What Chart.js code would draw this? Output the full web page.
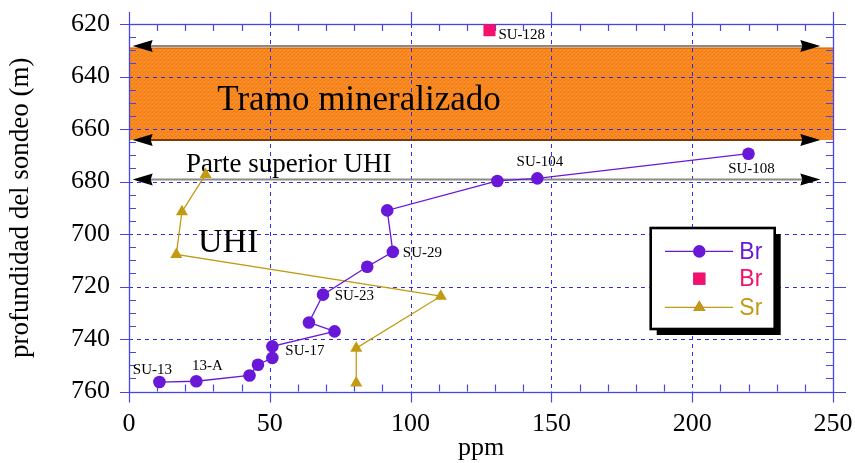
<!DOCTYPE html>
<html>
<head>
<meta charset="utf-8">
<script src="https://cdn.jsdelivr.net/npm/chart.js@4.4.1/dist/chart.umd.min.js"></script>
<style>
  html, body { margin: 0; padding: 0; background: #ffffff; }
  #wrap { width: 855px; height: 463px; position: relative; }
</style>
</head>
<body>
<div id="wrap"><canvas id="c" width="855" height="463"></canvas></div>
<script>
// Bromine profile (ppm vs depth in m), ordered by depth
const brPpm   = [220, 145, 130.8, 91.7, 93.7, 84.6, 68.9, 63.9, 73.0, 50.9, 50.9, 45.8, 42.8, 23.9, 10.8];
const brDepth = [669.4, 678.8, 679.8, 691.0, 706.8, 712.5, 723.1, 733.7, 737.1, 742.8, 747.2, 749.8, 753.9, 756.1, 756.4];
const brNames = ['SU-108', 'SU-104', '', '', 'SU-29', '', 'SU-23', '', '', 'SU-17', '', '', '', '13-A', 'SU-13'];

// Isolated bromine sample
const br2Ppm   = [128];
const br2Depth = [622.4];
const br2Names = ['SU-128'];

// Strontium profile
const srPpm   = [27.2, 18.8, 16.8, 110.7, 80.7, 80.7];
const srDepth = [677.3, 691.5, 707.8, 723.7, 743.5, 756.8];

// Axis ticks
const xTickValues = [0, 50, 100, 150, 200, 250];
const yTickValues = [620, 640, 660, 680, 700, 720, 740, 760];

// Depth intervals
const mineralTop = 629;
const mineralBottom = 664.2;
const markerDepths = [628.4, 664.2, 679.2];

const SERIF = "'Liberation Serif', 'Times New Roman', serif";
const SANS = "'Liberation Sans', Arial, sans-serif";
const GRID_BLUE = '#2e2ef0';
const FRAME_BLUE = '#4646e6';

const PURPLE = '#6a18d8';
const PINK = '#f5106c';
const GOLD = '#c29b12';

Chart.defaults.font.family = SERIF;

// Orange speckled fill for the mineralised interval
function makeBandPattern(ctx) {
  const p = document.createElement('canvas');
  p.width = 4; p.height = 4;
  const g = p.getContext('2d');
  g.fillStyle = '#f98a1f';
  g.fillRect(0, 0, 4, 4);
  g.fillStyle = '#ee781a';
  g.fillRect(0, 0, 1, 1);
  g.fillRect(2, 2, 1, 1);
  g.fillRect(3, 0, 1, 1);
  g.fillRect(1, 3, 1, 1);
  g.fillStyle = '#fc9634';
  g.fillRect(2, 0, 1, 1);
  g.fillRect(0, 2, 1, 1);
  return ctx.createPattern(p, 'repeat');
}

const bandPlugin = {
  id: 'band',
  beforeDraw(chart) {
    const {ctx, chartArea: a, scales: {y}} = chart;
    const t = y.getPixelForValue(mineralTop);
    const b = y.getPixelForValue(mineralBottom);
    ctx.save();
    ctx.fillStyle = makeBandPattern(ctx);
    ctx.fillRect(a.left, t, a.right - a.left, b - t);
    ctx.strokeStyle = '#d0650f';
    ctx.lineWidth = 1;
    ctx.beginPath();
    ctx.moveTo(a.left, t + 0.5);
    ctx.lineTo(a.right, t + 0.5);
    ctx.stroke();
    ctx.restore();
  }
};

function arrowHead(ctx, tipX, yy, dir) {
  const len = 20, half = 6;
  ctx.beginPath();
  ctx.moveTo(tipX, yy);
  ctx.lineTo(tipX + dir * len, yy - half);
  ctx.lineTo(tipX + dir * len * 0.9, yy);
  ctx.lineTo(tipX + dir * len, yy + half);
  ctx.closePath();
  ctx.fill();
}

const framePlugin = {
  id: 'frame',
  beforeDatasetsDraw(chart) {
    const {ctx, chartArea: a, scales: {x, y}} = chart;
    ctx.save();

    // dashed grid
    ctx.strokeStyle = GRID_BLUE;
    ctx.lineWidth = 1;
    ctx.setLineDash([4, 4]);
    xTickValues.forEach(v => {
      const px = Math.round(x.getPixelForValue(v)) + 0.5;
      ctx.beginPath(); ctx.moveTo(px, a.top); ctx.lineTo(px, a.bottom); ctx.stroke();
    });
    yTickValues.forEach(v => {
      const py = Math.round(y.getPixelForValue(v)) + 0.5;
      ctx.beginPath(); ctx.moveTo(a.left, py); ctx.lineTo(a.right, py); ctx.stroke();
    });
    ctx.setLineDash([]);

    // frame
    ctx.strokeStyle = FRAME_BLUE;
    ctx.lineWidth = 1.3;
    ctx.strokeRect(Math.round(a.left) + 0.5, Math.round(a.top) + 0.5,
                   Math.round(a.right) - Math.round(a.left), Math.round(a.bottom) - Math.round(a.top));

    // major ticks (outward) and minor ticks (inward)
    ctx.lineWidth = 1.2;
    ctx.beginPath();
    xTickValues.forEach(v => {
      const px = Math.round(x.getPixelForValue(v)) + 0.5;
      ctx.moveTo(px, a.top - 12); ctx.lineTo(px, a.top);
      ctx.moveTo(px, a.bottom); ctx.lineTo(px, a.bottom + 11);
    });
    yTickValues.forEach(v => {
      const py = Math.round(y.getPixelForValue(v)) + 0.5;
      ctx.moveTo(a.left - 9, py); ctx.lineTo(a.left, py);
      ctx.moveTo(a.right, py); ctx.lineTo(a.right + 13, py);
    });
    for (let v = x.min; v <= x.max; v += 10) {
      if (v % 50 === 0) continue;
      const px = Math.round(x.getPixelForValue(v)) + 0.5;
      ctx.moveTo(px, a.top); ctx.lineTo(px, a.top + 7);
      ctx.moveTo(px, a.bottom); ctx.lineTo(px, a.bottom - 7);
    }
    for (let v = y.min; v <= y.max; v += 5) {
      if (v % 20 === 0) continue;
      const py = Math.round(y.getPixelForValue(v)) + 0.5;
      ctx.moveTo(a.left, py); ctx.lineTo(a.left + 7, py);
      ctx.moveTo(a.right, py); ctx.lineTo(a.right - 7, py);
    }
    ctx.stroke();

    // double-headed interval markers
    const lineColors = ['#8a8a8a', '#7a3a08', '#8a8a8a'];
    const x0 = x.getPixelForValue(1.3);
    const x1 = x.getPixelForValue(245.5);
    markerDepths.forEach((d, i) => {
      const py = y.getPixelForValue(d);
      ctx.strokeStyle = lineColors[i];
      ctx.lineWidth = 2;
      ctx.beginPath(); ctx.moveTo(x0 + 10, py); ctx.lineTo(x1 - 10, py); ctx.stroke();
      ctx.fillStyle = '#000000';
      arrowHead(ctx, x0, py, 1);
      arrowHead(ctx, x1, py, -1);
    });

    // interval captions
    ctx.fillStyle = '#000000';
    ctx.textAlign = 'center';
    ctx.textBaseline = 'alphabetic';
    const captions = [
      {text: 'Tramo mineralizado', v: 81.7, d: 652.7, size: 35},
      {text: 'Parte superior UHI', v: 56.7, d: 676.3, size: 27},
      {text: 'UHI', v: 35.2, d: 706.8, size: 34}
    ];
    captions.forEach(c => {
      ctx.font = c.size + 'px ' + SERIF;
      ctx.fillText(c.text, x.getPixelForValue(c.v), y.getPixelForValue(c.d));
    });
    ctx.restore();
  }
};

// where each sample name sits relative to its point
const namePlacement = {
  'SU-108': {dx: 3, dy: 19, align: 'center'},
  'SU-104': {dx: 2.6, dy: -12.6, align: 'center'},
  'SU-29': {dx: 10, dy: 5, align: 'left'},
  'SU-23': {dx: 11.7, dy: 5.7, align: 'left'},
  'SU-17': {dx: 13, dy: 9, align: 'left'},
  '13-A': {dx: 11, dy: -11, align: 'center'},
  'SU-13': {dx: -7, dy: -8.4, align: 'center'},
  'SU-128': {dx: 9, dy: 8.6, align: 'left'}
};

const namesPlugin = {
  id: 'names',
  afterDatasetsDraw(chart) {
    const {ctx} = chart;
    ctx.save();
    ctx.fillStyle = '#000000';
    ctx.font = '15px ' + SERIF;
    ctx.textBaseline = 'alphabetic';
    chart.data.datasets.forEach((ds, di) => {
      if (!ds.names) return;
      const meta = chart.getDatasetMeta(di);
      meta.data.forEach((pt, i) => {
        const n = ds.names[i];
        if (!n) return;
        const p = namePlacement[n] || {dx: 8, dy: 5, align: 'left'};
        ctx.textAlign = p.align;
        ctx.fillText(n, pt.x + p.dx, pt.y + p.dy);
      });
    });
    ctx.restore();
  }
};

const legendPlugin = {
  id: 'boxLegend',
  afterDatasetsDraw(chart) {
    const {ctx, chartArea: a} = chart;
    const w = 124, h = 101;
    const left = a.right - 58.3 - w;
    const top = a.top + 204;
    ctx.save();
    ctx.fillStyle = '#000000';
    ctx.fillRect(left + 6, top + 6, w, h);
    ctx.fillStyle = '#ffffff';
    ctx.fillRect(left, top, w, h);
    ctx.strokeStyle = '#000000';
    ctx.lineWidth = 2.6;
    ctx.strokeRect(left, top, w, h);

    const rowY = [23.4, 50.7, 79.4];
    ctx.font = '23px ' + SANS;
    ctx.textBaseline = 'middle';
    ctx.textAlign = 'left';
    chart.data.datasets.forEach((ds, i) => {
      const yy = top + rowY[i];
      const mx = left + 48.6;
      if (ds.showLine) {
        ctx.strokeStyle = ds.borderColor;
        ctx.lineWidth = ds.borderWidth;
        ctx.beginPath(); ctx.moveTo(left + 14.3, yy); ctx.lineTo(left + 82.3, yy); ctx.stroke();
      }
      Chart.helpers.drawPoint(ctx, {
        pointStyle: ds.pointStyle, radius: ds.pointRadius, borderWidth: 0, rotation: 0
      }, mx, yy);
      ctx.fillStyle = ds.pointBackgroundColor;
      ctx.fill();
      ctx.fillStyle = ds.borderColor;
      ctx.fillText(ds.label, left + 88.6, yy + 1);
    });
    ctx.restore();
  }
};

const toPoints = (xs, ys) => xs.map((v, i) => ({x: v, y: ys[i]}));

// fixed scale boxes so the plot frame lands where intended
function fixBox(size, isX) {
  return s => {
    if (isX) s.height = size; else s.width = size;
    s.paddingTop = 0; s.paddingBottom = 0; s.paddingLeft = 0; s.paddingRight = 0;
  };
}

new Chart(document.getElementById('c'), {
  type: 'scatter',
  data: {
    datasets: [
      {
        label: 'Br',
        data: toPoints(brPpm, brDepth),
        names: brNames,
        showLine: true,
        borderColor: PURPLE,
        borderWidth: 1.3,
        pointStyle: 'circle',
        pointRadius: 6.3,
        pointBackgroundColor: PURPLE,
        pointBorderColor: PURPLE,
        pointBorderWidth: 0
      },
      {
        label: 'Br',
        data: toPoints(br2Ppm, br2Depth),
        names: br2Names,
        showLine: false,
        borderColor: PINK,
        borderWidth: 1.3,
        pointStyle: 'rect',
        pointRadius: 8.5,
        pointBackgroundColor: PINK,
        pointBorderColor: PINK,
        pointBorderWidth: 0
      },
      {
        label: 'Sr',
        data: toPoints(srPpm, srDepth),
        showLine: true,
        borderColor: GOLD,
        borderWidth: 1.3,
        pointStyle: 'triangle',
        pointRadius: 7,
        pointBackgroundColor: GOLD,
        pointBorderColor: GOLD,
        pointBorderWidth: 0
      }
    ]
  },
  options: {
    responsive: false,
    animation: false,
    layout: { padding: { top: 24, right: 22, left: 0, bottom: 0 } },
    plugins: {
      legend: { display: false },
      tooltip: { enabled: false }
    },
    scales: {
      x: {
        type: 'linear',
        min: 0,
        max: 250,
        afterBuildTicks: s => { s.ticks = xTickValues.map(v => ({value: v})); },
        afterFit: fixBox(71.5, true),
        grid: { display: false, drawTicks: false },
        border: { display: false },
        ticks: { color: '#000000', font: { family: SERIF, size: 26 }, padding: 17.4, maxRotation: 0 },
        title: { display: true, text: 'ppm', color: '#000000',
                 font: { family: SERIF, size: 26, lineHeight: 1 }, padding: { top: 0, bottom: 2 } }
      },
      y: {
        type: 'linear',
        reverse: true,
        min: 620,
        max: 760,
        afterBuildTicks: s => { s.ticks = yTickValues.map(v => ({value: v})); },
        afterFit: fixBox(129, false),
        grid: { display: false, drawTicks: false },
        border: { display: false },
        ticks: { color: '#000000', font: { family: SERIF, size: 26 }, padding: 19 },
        title: { display: true, text: 'profundidad del sondeo (m)', color: '#000000',
                 font: { family: SERIF, size: 27, lineHeight: 1 }, padding: { top: 7.5, bottom: 0 } }
      }
    }
  },
  plugins: [bandPlugin, framePlugin, namesPlugin, legendPlugin]
});
</script>
</body>
</html>
